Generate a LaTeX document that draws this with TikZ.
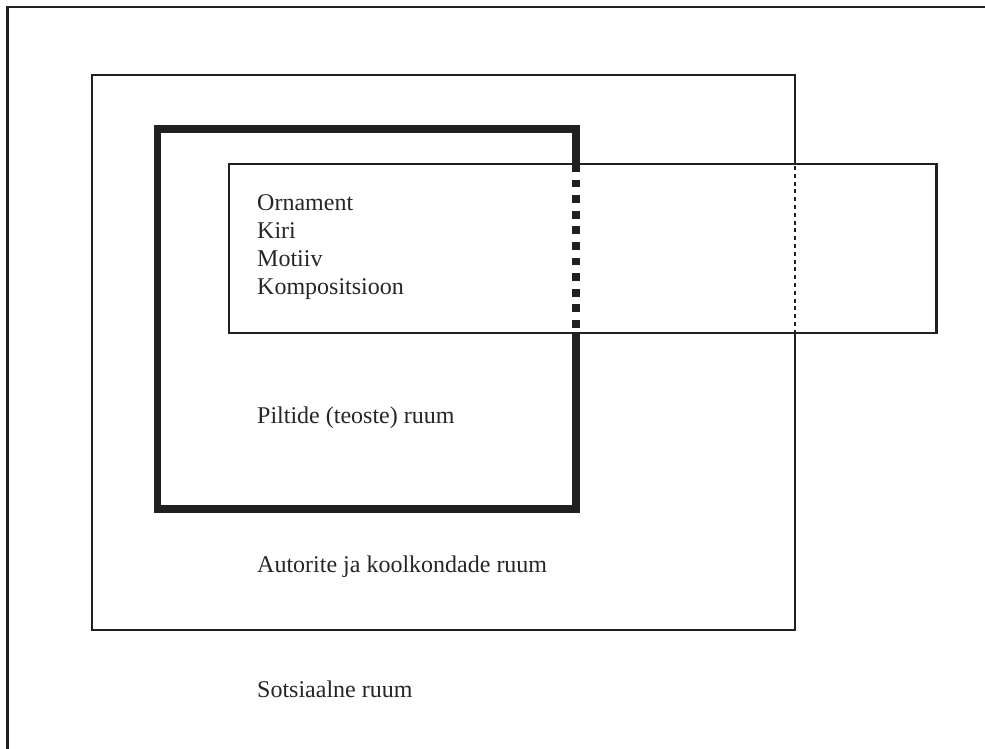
\documentclass[tikz,border=0pt]{standalone}
\usepackage{fontspec}
\setmainfont{Liberation Serif}
\begin{document}
\begin{tikzpicture}[x=1pt,y=-1pt,
  thinframe/.style={draw=black!88,line width=2.8pt},
  thickframe/.style={draw=black!88,line width=7.8pt},
  lbl/.style={anchor=base west,inner sep=0pt,font=\fontsize{24}{28}\selectfont,text=black!85}]
\fill[white] (0,0) rectangle (985,749);
\useasboundingbox (0,0) rectangle (985,749);
\begin{scope}
\clip (0,0) rectangle (985,749);
% outer (social space), cropped
\draw[thinframe] (7.5,760) -- (7.5,7) -- (1000,7);
\end{scope}
% authors' space
\draw[thinframe] (92,75) rectangle (795,630);
% pictures' space
\draw[thickframe] (157.5,129) rectangle (576,509);
% ornament box
\fill[white] (229,164) rectangle (936.5,333);
\draw[thinframe] (229,164) rectangle (936.5,333);
% dotted continuations
\draw[draw=black!88,line width=7.8pt,line cap=butt,dash pattern=on 7.7pt off 7.9pt] (576,164) -- (576,333);
\draw[draw=black!88,line width=2.8pt,line cap=butt,dash pattern=on 3.9pt off 3.9pt] (795,166) -- (795,333);
% labels
\node[lbl] (orn) at (257,210) {Ornament};
\node[lbl] (kiri) at (257,238) {Kiri};
\node[lbl] (mot) at (257,266) {Motiiv};
\node[lbl] (komp) at (257,294) {Kompositsioon};
\node[lbl] (pilt) at (257,423) {Piltide (teoste) ruum};
\node[lbl] (aut) at (257,572) {Autorite ja koolkondade ruum};
\node[lbl] (sots) at (257,697) {Sotsiaalne ruum};
\end{tikzpicture}
\end{document}
